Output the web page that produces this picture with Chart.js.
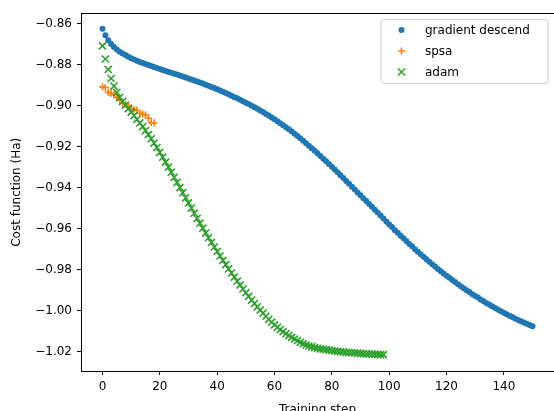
<!DOCTYPE html>
<html>
<head>
<meta charset="utf-8">
<script src="https://cdn.jsdelivr.net/npm/chart.js@4.4.1/dist/chart.umd.min.js"></script>
<style>
  html, body { margin: 0; padding: 0; overflow: hidden; background: #fff; }
</style>
</head>
<body>
<canvas id="costChart" width="554" height="411"></canvas>
<script>
// ---- data ----
const gdCost = [
  -0.8624,-0.8655,-0.8679,-0.8698,-0.8713,-0.8725,-0.8735,-0.8744,-0.8752,-0.8760,
  -0.8767,-0.8773,-0.8779,-0.8785,-0.8790,-0.8795,-0.8800,-0.8805,-0.8810,-0.8815,
  -0.8820,-0.8825,-0.8829,-0.8834,-0.8838,-0.8843,-0.8847,-0.8852,-0.8856,-0.8861,
  -0.8866,-0.8871,-0.8876,-0.8881,-0.8886,-0.8891,-0.8896,-0.8902,-0.8907,-0.8913,
  -0.8919,-0.8925,-0.8931,-0.8937,-0.8943,-0.8950,-0.8957,-0.8963,-0.8970,-0.8977,
  -0.8984,-0.8991,-0.8999,-0.9006,-0.9014,-0.9022,-0.9030,-0.9039,-0.9047,-0.9056,
  -0.9065,-0.9075,-0.9084,-0.9094,-0.9104,-0.9114,-0.9125,-0.9136,-0.9147,-0.9158,
  -0.9170,-0.9182,-0.9194,-0.9206,-0.9218,-0.9231,-0.9244,-0.9257,-0.9270,-0.9283,
  -0.9297,-0.9310,-0.9324,-0.9338,-0.9352,-0.9366,-0.9380,-0.9394,-0.9408,-0.9422,
  -0.9436,-0.9450,-0.9464,-0.9478,-0.9492,-0.9506,-0.9520,-0.9535,-0.9549,-0.9564,
  -0.9578,-0.9591,-0.9606,-0.9619,-0.9633,-0.9646,-0.9659,-0.9673,-0.9685,-0.9699,
  -0.9711,-0.9723,-0.9736,-0.9748,-0.9760,-0.9772,-0.9783,-0.9795,-0.9806,-0.9817,
  -0.9828,-0.9838,-0.9849,-0.9859,-0.9870,-0.9880,-0.9889,-0.9899,-0.9908,-0.9918,
  -0.9927,-0.9935,-0.9945,-0.9953,-0.9962,-0.9970,-0.9978,-0.9986,-0.9994,-1.0002,
  -1.0009,-1.0016,-1.0024,-1.0030,-1.0038,-1.0044,-1.0050,-1.0057,-1.0063,-1.0069,
  -1.0075
];

const spsaCost = [
  -0.8907,-0.8910,-0.8934,-0.8937,-0.8945,-0.8958,-0.8973,-0.8985,-0.8992,-0.9001,
  -0.9011,-0.9016,-0.9022,-0.9036,-0.9040,-0.9044,-0.9060,-0.9082,-0.9083
];

const adamCost = [
  -0.8707,-0.8771,-0.8822,-0.8866,-0.8903,-0.8934,-0.8958,-0.8978,-0.8996,-0.9013,
  -0.9030,-0.9047,-0.9065,-0.9083,-0.9101,-0.9120,-0.9140,-0.9160,-0.9181,-0.9203,
  -0.9226,-0.9250,-0.9274,-0.9298,-0.9323,-0.9348,-0.9373,-0.9398,-0.9423,-0.9448,
  -0.9473,-0.9498,-0.9523,-0.9548,-0.9572,-0.9596,-0.9620,-0.9643,-0.9666,-0.9688,
  -0.9710,-0.9732,-0.9753,-0.9774,-0.9795,-0.9815,-0.9835,-0.9855,-0.9874,-0.9893,
  -0.9911,-0.9929,-0.9947,-0.9964,-0.9980,-0.9996,-1.0011,-1.0026,-1.0041,-1.0055,
  -1.0068,-1.0080,-1.0091,-1.0101,-1.0111,-1.0120,-1.0129,-1.0137,-1.0145,-1.0153,
  -1.0160,-1.0166,-1.0171,-1.0175,-1.0179,-1.0182,-1.0185,-1.0187,-1.0189,-1.0191,
  -1.0193,-1.0195,-1.0197,-1.0199,-1.0200,-1.0202,-1.0203,-1.0204,-1.0205,-1.0206,
  -1.0207,-1.0208,-1.0209,-1.0210,-1.0211,-1.0211,-1.0212,-1.0213,-1.0213
];

const seriesNames = ["gradient descend", "spsa", "adam"];
const xTicks = [0, 20, 40, 60, 80, 100, 120, 140];
const yTicks = [-1.02, -1.00, -0.98, -0.96, -0.94, -0.92, -0.90, -0.88, -0.86];

// training step = index in the array
function toPoints(arr) {
  return arr.map((v, i) => ({ x: i, y: v }));
}

const FONT = "'DejaVu Sans', 'Liberation Sans', sans-serif";

// frame around the axes (matplotlib style box)
const frameBox = {
  id: "frameBox",
  afterDatasetsDraw(chart) {
    const { ctx, chartArea: a } = chart;
    ctx.save();
    ctx.strokeStyle = "#000";
    ctx.lineWidth = 1;
    ctx.strokeRect(Math.floor(a.left) + 0.5, Math.floor(a.top) + 0.5,
      Math.round(a.right - a.left), Math.round(a.bottom - a.top));
    ctx.restore();
  }
};

// legend drawn in the upper right corner of the axes
const legendBox = {
  id: "legendBox",
  afterDraw(chart) {
    const { ctx, chartArea: a } = chart;
    const w = 167, h = 64;
    const right = a.right - 6, top = a.top + 6;
    const left = right - w;
    ctx.save();
    ctx.beginPath();
    ctx.roundRect(left, top, w, h, 3);
    ctx.fillStyle = "rgba(255,255,255,0.8)";
    ctx.fill();
    ctx.strokeStyle = "#cccccc";
    ctx.lineWidth = 1;
    ctx.stroke();

    ctx.font = "12px " + FONT;
    ctx.textBaseline = "middle";
    ctx.textAlign = "left";
    chart.data.datasets.forEach((ds, i) => {
      const y = top + 10.5 + i * 21;
      const x = left + 20.5;
      ctx.fillStyle = ds.backgroundColor;
      ctx.strokeStyle = ds.borderColor;
      ctx.lineWidth = ds.borderWidth;
      Chart.helpers.drawPoint(ctx, {
        pointStyle: ds.pointStyle,
        radius: ds.pointRadius,
        borderWidth: ds.borderWidth,
        rotation: 0
      }, x, y);
      ctx.fillStyle = "#000";
      ctx.fillText(ds.label, left + 44, y + 0.5);
    });
    ctx.restore();
  }
};

const ctx = document.getElementById("costChart").getContext("2d");

new Chart(ctx, {
  type: "scatter",
  data: {
    datasets: [
      {
        label: seriesNames[0],
        data: toPoints(gdCost),
        pointStyle: "circle",
        pointRadius: 3,
        borderWidth: 0,
        backgroundColor: "#1f77b4",
        borderColor: "#1f77b4",
        order: 3
      },
      {
        label: seriesNames[1],
        data: toPoints(spsaCost),
        pointStyle: "cross",
        pointRadius: 3.6,
        borderWidth: 1.6,
        backgroundColor: "#ff7f0e",
        borderColor: "#ff7f0e",
        order: 2
      },
      {
        label: seriesNames[2],
        data: toPoints(adamCost),
        pointStyle: "crossRot",
        pointRadius: 5,
        borderWidth: 1.6,
        backgroundColor: "#2ca02c",
        borderColor: "#2ca02c",
        order: 1
      }
    ]
  },
  options: {
    responsive: false,
    animation: false,
    // the axes run past the right and bottom edges of the picture, like the original
    layout: {
      autoPadding: false,
      padding: { top: 13.5, right: -5.5, left: 0, bottom: -13 }
    },
    plugins: {
      legend: { display: false },
      tooltip: { enabled: false }
    },
    elements: { point: { hoverRadius: 0 } },
    scales: {
      x: {
        type: "linear",
        min: -7.5,
        max: 157.5,
        afterBuildTicks: s => { s.ticks = xTicks.map(v => ({ value: v })); },
        afterFit: s => { s.height = 53; },
        grid: { drawOnChartArea: false, drawTicks: true, tickLength: 4, color: "#000" },
        border: { display: false },
        ticks: {
          color: "#000",
          padding: 5,
          maxRotation: 0,
          font: { family: FONT, size: 12 },
          callback: v => String(v)
        },
        title: {
          display: true,
          text: "Training step",
          color: "#000",
          font: { family: FONT, size: 12 },
          padding: { top: 0, bottom: 7 }
        }
      },
      y: {
        type: "linear",
        min: -1.0293,
        max: -0.8549,
        afterBuildTicks: s => { s.ticks = yTicks.map(v => ({ value: v })); },
        afterFit: s => { s.width = 81; },
        grid: { drawOnChartArea: false, drawTicks: true, tickLength: 4, color: "#000" },
        border: { display: false },
        ticks: {
          color: "#000",
          padding: 5,
          font: { family: FONT, size: 12 },
          callback: v => v.toFixed(2).replace("-", "\u2212")
        },
        title: {
          display: true,
          text: "Cost function (Ha)",
          color: "#000",
          font: { family: FONT, size: 12 },
          padding: { top: 10, bottom: 0 }
        }
      }
    }
  },
  plugins: [frameBox, legendBox]
});
</script>
</body>
</html>
